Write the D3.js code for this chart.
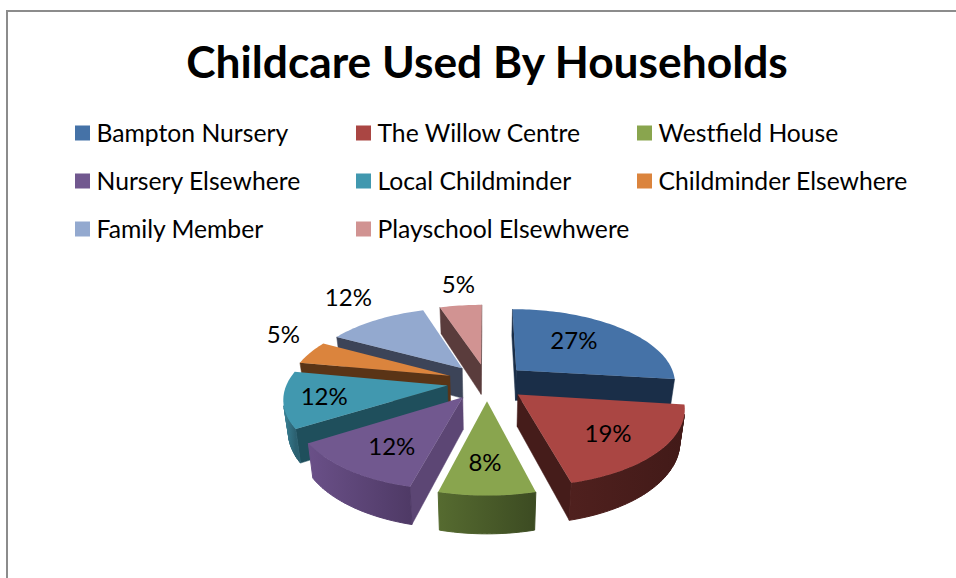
<!DOCTYPE html>
<html>
<head>
<meta charset="utf-8">
<script src="https://cdn.jsdelivr.net/npm/d3@7"></script>
<style>
  html, body { margin: 0; padding: 0; background: #fff; }
  svg { display: block; }
  text { font-family: Lato, "Open Sans", sans-serif; fill: #000; }
</style>
</head>
<body>
<svg id="chart" width="956" height="578"></svg>
<script>
// chart values
var categories = ["Bampton Nursery", "The Willow Centre", "Westfield House", "Nursery Elsewhere",
  "Local Childminder", "Childminder Elsewhere", "Family Member", "Playschool Elsewhwere"];
var shares = [27, 19, 8, 12, 12, 5, 12, 5];
var titleText = "Childcare Used By Households";

// face colours, one per slice
var topColors = ["#4572a7", "#aa4643", "#89a54e", "#71588f", "#4198af", "#db843d", "#93a9cf", "#d19392"];
var wallColors = ["#1a2e48", "#451c1a", "#46582a", "#5c4674", "#1f4f5c", "#5a3416", "#3c4458", "#5a3c3c"];
var rimLeft = ["#2b4668", "#4f201e", "#566b30", "#6a5088", "#3a8296", "#8a5325", "#5a6780", "#805a5a"];
var rimRight = ["#1f3450", "#421a18", "#3c4b22", "#4f3a66", "#2b6070", "#6a3f1c", "#454f63", "#624545"];

var svg = d3.select("#chart");
var defs = svg.append("defs");

// frame
svg.append("path")
  .attr("d", "M7,578V11H956")
  .attr("fill", "none")
  .attr("stroke", "#8c8c8c")
  .attr("stroke-width", 2);

svg.append("text")
  .attr("x", 487).attr("y", 78)
  .attr("text-anchor", "middle")
  .attr("font-size", 44.3)
  .attr("font-weight", 700)
  .text(titleText);

// legend is a 3 column grid filled row by row
var legendCol = d3.scalePoint().domain([0, 1, 2]).range([75, 637]);
var legendRow = d3.scalePoint().domain([0, 1, 2]).range([133, 229]);
var legend = svg.append("g").selectAll("g")
  .data(categories)
  .enter().append("g")
  .attr("transform", function(d, i) {
    return "translate(" + legendCol(i % 3) + "," + legendRow(Math.floor(i / 3)) + ")";
  });
legend.append("rect")
  .attr("y", -7.5).attr("width", 15).attr("height", 15)
  .attr("fill", function(d, i) { return topColors[i]; });
legend.append("text")
  .attr("x", 21.5).attr("y", 8.5)
  .attr("font-size", 24.7)
  .text(function(d) { return d; });

// pie set up, ground plane is projected with a bit of perspective
var cx = 487, cy = 382, radius = 160, explode = 40, depth = 31;
var tilt = 0.46, persp = 0.00095, bottomShrink = 0.975;

function project(X, Y, low) {
  var s = 1 / (1 - persp * Y);
  var sx = X * s;
  var sy = Y * tilt * s;
  if (low) return [cx + sx * bottomShrink, cy + sy + depth * s];
  return [cx + sx, cy + sy];
}

var arcs = d3.pie().sort(null)(shares);

// how far along the radius each % label sits, and the nudge after that
var labelRadius = [0.55, 0.7, 0.76, 0.75, 0.78, 1.12, 1.15, 1.25];
var labelNudge = [[-2, -5], [-5, 1], [-2, -7], [12, -3], [4, 0], [-11, -15], [-16, -16], [2, -8]];

var slices = arcs.map(function(a, i) {
  var mid = (a.startAngle + a.endAngle) / 2;
  return {
    i: i, start: a.startAngle, end: a.endAngle, mid: mid,
    ox: Math.sin(mid) * explode,
    oy: -Math.cos(mid) * explode
  };
});

function pointOn(s, angle, r) {
  return [s.ox + Math.sin(angle) * r, s.oy - Math.cos(angle) * r];
}

function signedArea(pts) {
  var sum = 0;
  pts.forEach(function(p, i) {
    var q = pts[(i + 1) % pts.length];
    sum += p[0] * q[1] - q[0] * p[1];
  });
  return sum / 2;
}

var line = d3.line();
var pieG = svg.append("g");

// paint from the back of the picture to the front
slices.slice().sort(function(a, b) { return a.oy - b.oy; }).forEach(function(s) {
  var g = pieG.append("g");
  var steps = Math.max(6, Math.round((s.end - s.start) * 40));
  var angles = d3.range(steps + 1).map(function(k) { return s.start + (s.end - s.start) * k / steps; });
  var apex = [s.ox, s.oy];

  // the two cut walls, only the ones turned to the viewer
  [[s.start, -1], [s.end, 1]].forEach(function(w) {
    var p = pointOn(s, w[0], radius);
    var quad = [project(apex[0], apex[1]), project(p[0], p[1]), project(p[0], p[1], true), project(apex[0], apex[1], true)];
    if (signedArea(quad) * w[1] > 0) {
      g.append("path").attr("d", line(quad) + "Z")
        .attr("fill", wallColors[s.i])
        .attr("stroke", wallColors[s.i]).attr("stroke-width", 0.5);
    }
  });

  // rim, the quads turned to the viewer share one left to right gradient
  var visible = [];
  d3.pairs(angles).forEach(function(pair) {
    var a = pointOn(s, pair[0], radius), b = pointOn(s, pair[1], radius);
    var quad = [project(a[0], a[1]), project(b[0], b[1]), project(b[0], b[1], true), project(a[0], a[1], true)];
    if (signedArea(quad) < 0) visible.push(quad);
  });
  if (visible.length) {
    var x0 = d3.min(visible, function(q) { return Math.min(q[0][0], q[1][0]); });
    var x1 = d3.max(visible, function(q) { return Math.max(q[0][0], q[1][0]); });
    var grad = defs.append("linearGradient")
      .attr("id", "rim" + s.i)
      .attr("gradientUnits", "userSpaceOnUse")
      .attr("x1", x0).attr("x2", x1).attr("y1", 0).attr("y2", 0);
    grad.append("stop").attr("offset", 0).attr("stop-color", rimLeft[s.i]);
    grad.append("stop").attr("offset", 1).attr("stop-color", rimRight[s.i]);
    g.append("path")
      .attr("d", visible.map(function(q) { return line(q) + "Z"; }).join(""))
      .attr("fill", "url(#rim" + s.i + ")")
      .attr("stroke", "url(#rim" + s.i + ")")
      .attr("stroke-width", 1);
  }

  // top face
  var top = [project(apex[0], apex[1])].concat(angles.map(function(an) {
    var p = pointOn(s, an, radius);
    return project(p[0], p[1]);
  }));
  g.append("path").attr("d", line(top) + "Z").attr("fill", topColors[s.i]);
});

// % labels on top of everything
svg.append("g").selectAll("text")
  .data(slices)
  .enter().append("text")
  .attr("text-anchor", "middle")
  .attr("font-size", 24)
  .attr("transform", function(s) {
    var p = pointOn(s, s.mid, radius * labelRadius[s.i]);
    var xy = project(p[0], p[1]);
    return "translate(" + (xy[0] + labelNudge[s.i][0]) + "," + (xy[1] + 8 + labelNudge[s.i][1]) + ")";
  })
  .text(function(s) { return shares[s.i] + "%"; });
</script>
</body>
</html>
